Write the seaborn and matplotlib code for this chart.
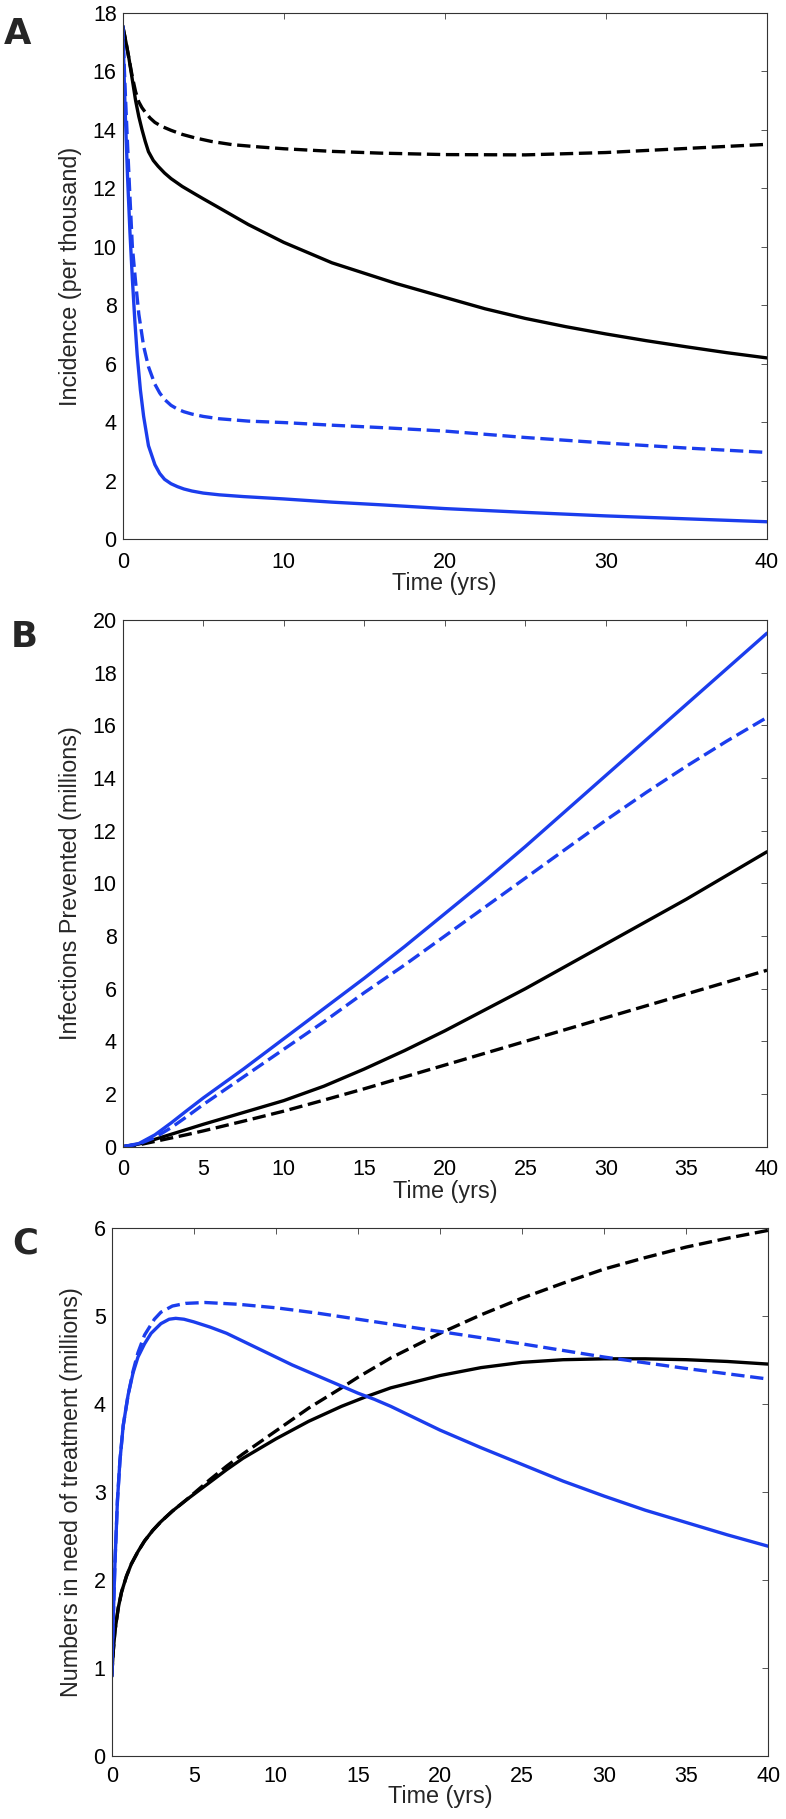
import matplotlib
matplotlib.use('Agg')
import matplotlib.pyplot as plt
import pandas as pd
import seaborn as sns

W, H = 786, 1819
BLUE = '#1b3ded'
DASHED = (4, 1.7)

# --- panel A: incidence (per thousand) ---
a_blue_solid_t = [0, 0.15, 0.3, 0.45, 0.6, 0.75, 0.9, 1.1, 1.3, 1.6, 2.0, 2.3, 2.6, 3.0, 3.4, 3.8, 4.3, 5, 6, 7.5, 10, 13, 16, 20, 25, 30, 35, 40]
a_blue_solid_v = [17.55, 14.7, 12.4, 10.5, 8.9, 7.5, 6.3, 5.1, 4.2, 3.2, 2.55, 2.25, 2.05, 1.9, 1.8, 1.72, 1.65, 1.58, 1.52, 1.46, 1.38, 1.27, 1.18, 1.05, 0.92, 0.8, 0.7, 0.6]
a_blue_dash_t = [0, 0.15, 0.3, 0.45, 0.6, 0.8, 1.0, 1.3, 1.6, 2.0, 2.3, 2.6, 3.0, 3.4, 3.8, 4.3, 5, 6, 7.8, 10, 13, 16, 20, 25, 30, 35, 40]
a_blue_dash_v = [17.55, 15.4, 13.5, 11.7, 10.0, 8.8, 7.7, 6.6, 5.9, 5.3, 5.0, 4.78, 4.58, 4.45, 4.36, 4.28, 4.2, 4.12, 4.04, 3.99, 3.9, 3.82, 3.70, 3.48, 3.29, 3.12, 2.97]
a_black_solid_t = [0, 0.2, 0.4, 0.6, 0.8, 1.0, 1.2, 1.4, 1.6, 1.9, 2.2, 2.6, 3.0, 3.7, 4.5, 5.0, 5.8, 7.8, 10, 13, 17, 20, 22.5, 25, 27.5, 30, 32.5, 35, 37.5, 40]
a_black_solid_v = [17.55, 17.0, 16.4, 15.7, 15.0, 14.45, 14.0, 13.6, 13.25, 12.95, 12.75, 12.52, 12.33, 12.06, 11.8, 11.64, 11.39, 10.76, 10.15, 9.45, 8.74, 8.27, 7.88, 7.55, 7.27, 7.02, 6.79, 6.58, 6.38, 6.2]
a_black_dash_t = [0, 0.2, 0.4, 0.6, 0.8, 1.0, 1.2, 1.4, 1.7, 2.0, 2.4, 3.0, 3.7, 4.5, 5.5, 6.8, 8.5, 10, 13, 16, 20, 25, 30, 35, 40]
a_black_dash_v = [17.55, 17.0, 16.4, 15.8, 15.3, 14.95, 14.75, 14.6, 14.4, 14.25, 14.12, 13.98, 13.84, 13.72, 13.6, 13.49, 13.41, 13.35, 13.26, 13.2, 13.15, 13.14, 13.22, 13.36, 13.5]

# --- panel B: infections prevented (millions) ---
b_t = [0, 1, 2, 3, 4, 5, 7.5, 10, 12.5, 15, 17.5, 20, 22.5, 25, 27.5, 30, 32.5, 35, 37.5, 40]
b_blue_solid = [0, 0.12, 0.45, 0.9, 1.38, 1.85, 2.95, 4.1, 5.25, 6.4, 7.6, 8.85, 10.1, 11.4, 12.75, 14.1, 15.45, 16.8, 18.15, 19.5]
b_blue_dash = [0, 0.1, 0.35, 0.72, 1.15, 1.6, 2.65, 3.7, 4.75, 5.85, 6.9, 8.0, 9.1, 10.2, 11.3, 12.4, 13.45, 14.45, 15.4, 16.3]
b_black_solid = [0, 0.1, 0.28, 0.47, 0.66, 0.85, 1.3, 1.75, 2.3, 2.95, 3.65, 4.4, 5.2, 6.0, 6.85, 7.7, 8.55, 9.4, 10.3, 11.2]
b_black_dash = [0, 0.07, 0.2, 0.33, 0.46, 0.6, 0.97, 1.35, 1.77, 2.2, 2.65, 3.1, 3.55, 4.0, 4.45, 4.9, 5.35, 5.8, 6.25, 6.7]

# --- panel C: numbers in need of treatment (millions) ---
c_blue_solid_t = [0, 0.1, 0.2, 0.35, 0.5, 0.7, 1.0, 1.3, 1.6, 2.0, 2.4, 3.0, 3.5, 3.9, 4.4, 5, 6, 7, 8, 9, 10, 11, 12, 13, 14, 15, 16, 17, 18, 20, 22.5, 25, 27.5, 30, 32.5, 35, 37.5, 40]
c_blue_solid_v = [0.9, 1.6, 2.2, 2.9, 3.35, 3.75, 4.1, 4.35, 4.53, 4.68, 4.8, 4.91, 4.96, 4.97, 4.96, 4.93, 4.87, 4.8, 4.71, 4.62, 4.53, 4.44, 4.36, 4.28, 4.2, 4.12, 4.05, 3.97, 3.88, 3.7, 3.5, 3.31, 3.12, 2.95, 2.79, 2.65, 2.51, 2.38]
c_blue_dash_t = [0, 0.1, 0.2, 0.35, 0.5, 0.7, 1.0, 1.3, 1.6, 2.0, 2.6, 3.0, 3.7, 4.5, 5.7, 7.7, 10, 12.5, 15, 17.5, 20, 25, 30, 35, 40]
c_blue_dash_v = [0.9, 1.6, 2.2, 2.9, 3.35, 3.75, 4.1, 4.37, 4.58, 4.78, 4.96, 5.04, 5.11, 5.14, 5.15, 5.13, 5.09, 5.03, 4.96, 4.89, 4.82, 4.68, 4.53, 4.4, 4.28]
c_black_solid_t = [0, 0.1, 0.2, 0.4, 0.6, 0.9, 1.2, 1.6, 2.0, 2.5, 3.0, 3.7, 4.5, 5, 6, 7, 8, 9, 10, 12, 14, 15.5, 17, 20, 22.5, 25, 27.5, 30, 32.5, 35, 37.5, 40]
c_black_solid_v = [0.9, 1.2, 1.42, 1.68, 1.86, 2.04, 2.18, 2.32, 2.44, 2.56, 2.66, 2.78, 2.9, 2.97, 3.11, 3.25, 3.38, 3.49, 3.6, 3.8, 3.97, 4.08, 4.18, 4.32, 4.41, 4.47, 4.5, 4.51, 4.51, 4.5, 4.48, 4.45]
c_black_dash_t = [0, 0.1, 0.2, 0.4, 0.6, 0.9, 1.2, 1.6, 2.0, 2.5, 3.0, 3.7, 4.5, 5, 6, 7, 8, 9, 10, 12, 14, 15, 17, 20, 22.5, 25, 27.5, 30, 32.5, 35, 37.5, 40]
c_black_dash_v = [0.9, 1.2, 1.42, 1.68, 1.86, 2.04, 2.18, 2.32, 2.44, 2.56, 2.66, 2.78, 2.9, 2.98, 3.14, 3.29, 3.43, 3.56, 3.69, 3.95, 4.18, 4.3, 4.52, 4.8, 5.01, 5.2, 5.37, 5.53, 5.66, 5.78, 5.88, 5.97]


def make_frame(series):
    rows = []
    for colour, style, ts, vs in series:
        for t, v in zip(ts, vs):
            rows.append({'t': t, 'v': v, 'colour': colour, 'style': style})
    return pd.DataFrame(rows)


def draw_panel(fig, box, df, ylim, yticks, xticks, ylabel, letter, letter_xy,
               xpad, ylab_x, xlab_y):
    left, top, right, bottom = box
    ax = fig.add_axes([left / W, 1 - bottom / H, (right - left) / W, (bottom - top) / H])
    sns.lineplot(data=df, x='t', y='v', hue='colour', style='style',
                 palette={'blue': BLUE, 'black': 'black'},
                 dashes={'solid': '', 'dashed': DASHED},
                 linewidth=2.4, estimator=None, sort=False, legend=False, ax=ax)
    ax.set_xlim(0, 40)
    ax.set_ylim(*ylim)
    ax.set_xticks(xticks)
    ax.set_yticks(yticks)
    ax.tick_params(direction='in', top=True, right=True, length=4.5, width=0.7,
                   color='#555555', labelsize=15.5, labelcolor='black')
    ax.tick_params(axis='x', pad=xpad)
    ax.tick_params(axis='y', pad=4.3)
    for sp in ax.spines.values():
        sp.set_color('#333333')
        sp.set_linewidth(0.8)
    ax.set_xlabel('Time (yrs)', fontsize=16.8)
    ax.set_ylabel(ylabel, fontsize=16.8)
    ax.yaxis.set_label_coords(ylab_x, 0.5)
    ax.xaxis.set_label_coords(0.5, xlab_y)
    fig.text(letter_xy[0] / W, 1 - letter_xy[1] / H, letter, fontsize=25.5,
             fontweight='bold', family='DejaVu Sans', ha='left', va='top')
    return ax


sns.set_theme(style='white')
plt.rcParams['font.family'] = ['Liberation Sans', 'DejaVu Sans']

fig = plt.figure(figsize=(W / 100, H / 100), dpi=100)

df_a = make_frame([
    ('black', 'dashed', a_black_dash_t, a_black_dash_v),
    ('black', 'solid', a_black_solid_t, a_black_solid_v),
    ('blue', 'dashed', a_blue_dash_t, a_blue_dash_v),
    ('blue', 'solid', a_blue_solid_t, a_blue_solid_v),
])
df_b = make_frame([
    ('black', 'dashed', b_t, b_black_dash),
    ('black', 'solid', b_t, b_black_solid),
    ('blue', 'dashed', b_t, b_blue_dash),
    ('blue', 'solid', b_t, b_blue_solid),
])
df_c = make_frame([
    ('black', 'dashed', c_black_dash_t, c_black_dash_v),
    ('black', 'solid', c_black_solid_t, c_black_solid_v),
    ('blue', 'dashed', c_blue_dash_t, c_blue_dash_v),
    ('blue', 'solid', c_blue_solid_t, c_blue_solid_v),
])

draw_panel(fig, (122.7, 12.7, 766.8, 539.3), df_a, (0, 18), range(0, 19, 2),
           range(0, 41, 10), 'Incidence (per thousand)', 'A', (4, 16.5),
           9.0, -0.063, -0.063)
draw_panel(fig, (122.7, 620, 767, 1146.7), df_b, (0, 20), range(0, 21, 2),
           range(0, 41, 5), 'Infections Prevented (millions)', 'B', (10.5, 620),
           8.6, -0.063, -0.063)
draw_panel(fig, (111.7, 1227.7, 768.3, 1755.7), df_c, (0, 6), range(0, 7, 1),
           range(0, 41, 5), 'Numbers in need of treatment (millions)', 'C', (12, 1226),
           7.7, -0.044, -0.056)

fig.savefig('out.png', dpi=100)
